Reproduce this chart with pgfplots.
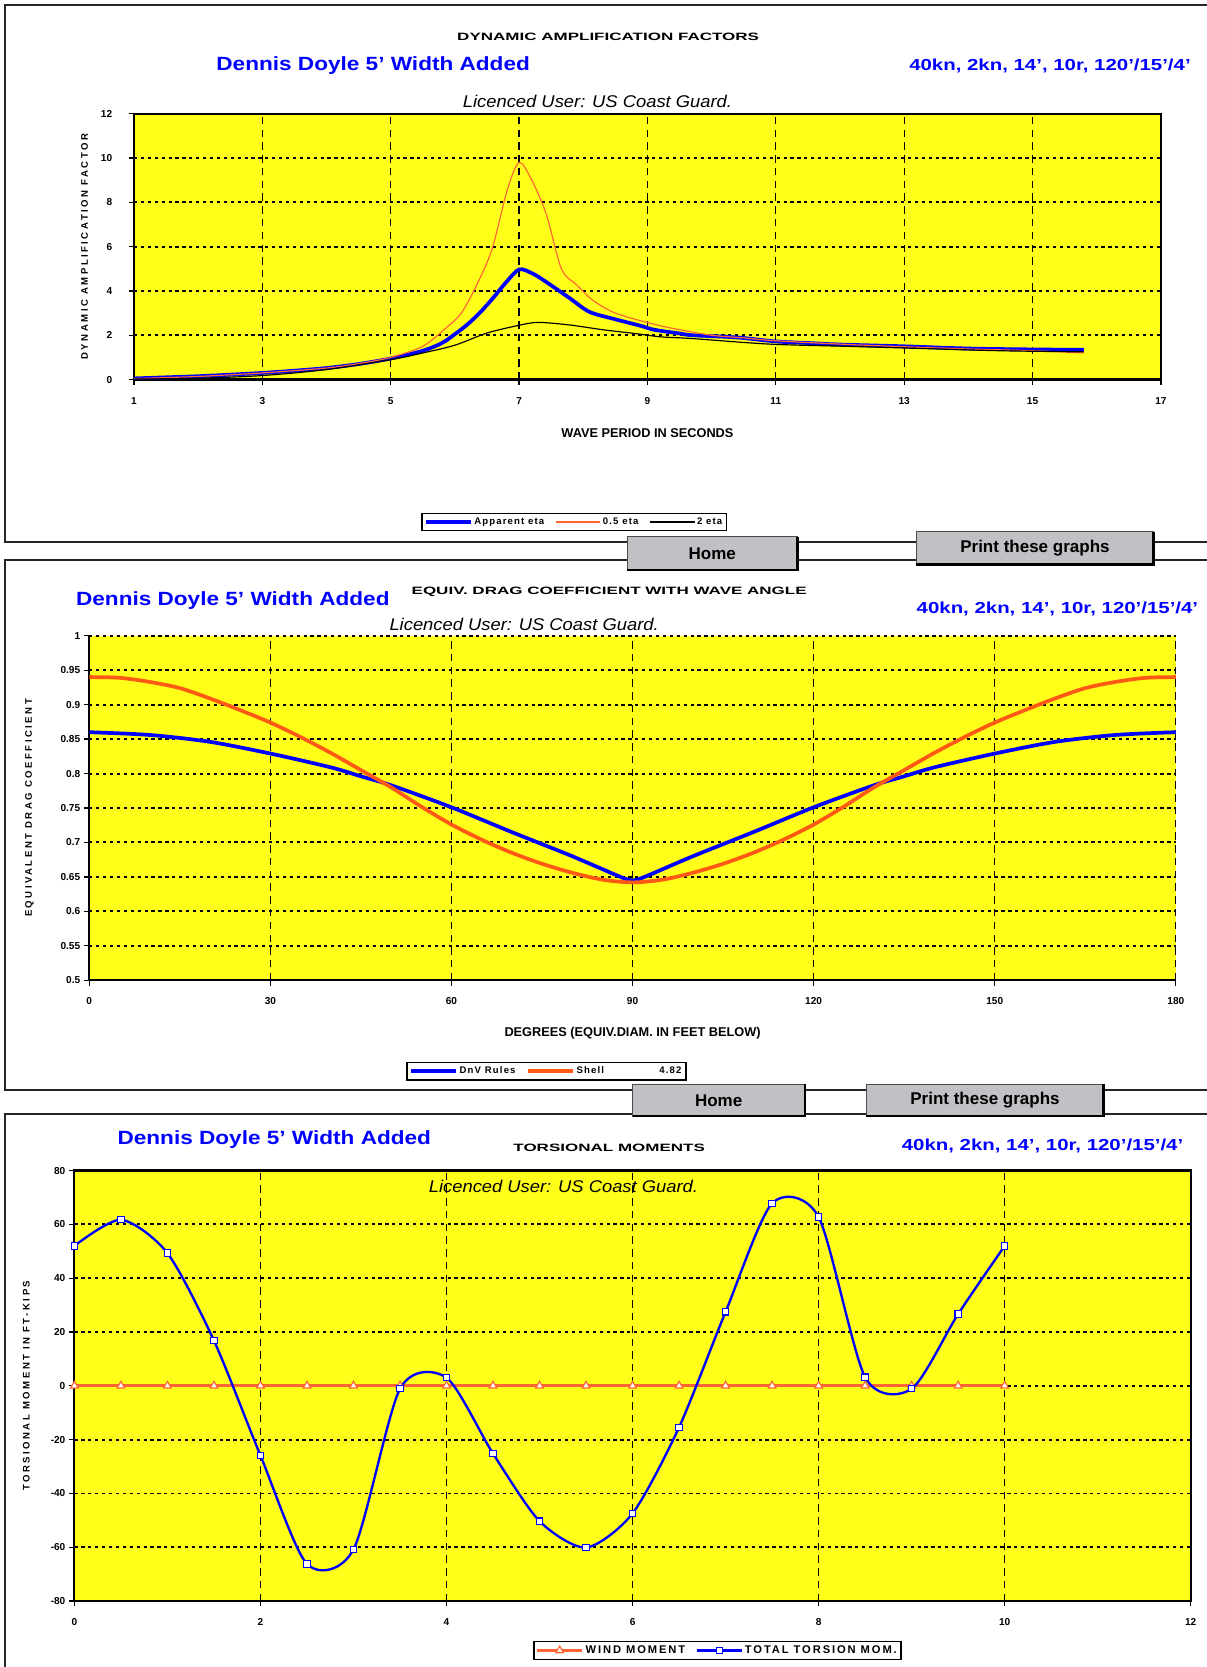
\documentclass[border=0pt]{standalone}
\usepackage{fontspec}
\setmainfont{Liberation Sans}
\usepackage{pgfplots}
\pgfplotsset{compat=1.18}

\definecolor{plotyellow}{RGB}{255,255,26}
\definecolor{xlblue}{RGB}{0,0,255}
\definecolor{xlorange}{RGB}{255,102,51}
\definecolor{xlorangeB}{RGB}{255,90,20}
\definecolor{btngray}{RGB}{194,192,196}

\newcommand{\tickfont}{\bfseries\fontsize{9.5}{10}\selectfont}
\newcommand{\labfont}{\bfseries\fontsize{12}{13}\selectfont}
\newcommand{\ylabfont}{\bfseries\fontsize{9}{10}\selectfont\addfontfeature{LetterSpace=26}}
\newcommand{\legfont}{\bfseries\fontsize{9}{10}\selectfont\addfontfeature{LetterSpace=12}}
\newcommand{\titlefont}{\bfseries\fontsize{10}{12}\selectfont}
\newcommand{\doylefont}{\bfseries\fontsize{18}{20}\selectfont}
\newcommand{\specfont}{\bfseries\fontsize{15}{17}\selectfont}
\newcommand{\licfont}{\itshape\fontsize{16}{18}\selectfont}
\newcommand{\btnfont}{\bfseries\fontsize{16}{18}\selectfont}

\pgfplotsset{
  xlchart/.style={
    scale only axis,
    anchor=south west,
    axis background/.style={fill=plotyellow},
    grid=major,
    x grid style={black, line width=1.1pt, dash pattern=on 7pt off 5pt},
    y grid style={black, line width=1.8pt, dash pattern=on 3pt off 3.5pt},
    axis line style={black, line width=2pt},
    tick align=outside,
    major tick length=5pt,
    tick style={black, line width=1.2pt},
    xtick pos=left, ytick pos=left,
    ticklabel style={font=\tickfont},
    xticklabel style={yshift=-8pt},
    /pgf/number format/assume math mode=true,
    legend columns=-1,
    legend style={draw=black, line width=1.6pt, anchor=center, inner sep=2pt,
      font=\legfont,
      /tikz/every even column/.append style={column sep=8pt}},
    legend image code/.code={\draw[mark repeat=2,mark phase=2,##1] plot coordinates {(0pt,0pt) (21pt,0pt) (42pt,0pt)};},
  },
}

\begin{document}
\begin{tikzpicture}
\path[use as bounding box] (0pt,0pt) rectangle (1135pt,-1568pt);

% ---------- chart 1: dynamic amplification factors
\begin{axis}[xlchart,
  at={(126pt,-357pt)}, width=966pt, height=250pt,
  xmin=1, xmax=17, ymin=0, ymax=12,
  xtick={1,3,...,17}, ytick={0,2,...,12},
  xlabel={WAVE PERIOD IN SECONDS},
  ylabel={DYNAMIC AMPLIFICATION FACTOR},
  x label style={at={(axis description cs:0.5,-0.2)}, anchor=center, font=\labfont},
  y label style={at={(axis description cs:-0.048,0.5)}, anchor=center, font=\ylabfont},
  yticklabel style={xshift=-12pt},
  legend style={at={(0.4286,-0.536)}},
]
\addplot[xlblue, line width=3.5pt, smooth] coordinates {
 (1,0.05) (1.5,0.1) (2,0.15) (2.5,0.22) (3,0.3) (3.5,0.4) (4,0.52) (4.5,0.7)
 (5,0.95) (5.5,1.3) (5.8,1.65) (6,2.05) (6.2,2.5) (6.4,3.05) (6.6,3.7) (6.8,4.4)
 (7,4.97) (7.2,4.8) (7.4,4.45) (7.8,3.65) (8.1,3.05) (8.5,2.72) (8.9,2.42)
 (9.1,2.25) (9.5,2.08) (9.7,2.0) (10.4,1.9) (11,1.72) (11.5,1.65) (12,1.58)
 (13,1.5) (14,1.4) (15,1.36) (15.8,1.34)};
\addlegendentry{Apparent eta}
\addplot[xlorange, line width=1.1pt, smooth] coordinates {
 (1,0.04) (2,0.14) (3,0.3) (4,0.52) (4.5,0.72) (5,1.0) (5.5,1.5) (5.85,2.3)
 (6.1,3.0) (6.34,4.27) (6.58,5.9) (6.82,8.6) (7.0,9.8) (7.18,9.1) (7.42,7.5)
 (7.66,5.0) (7.9,4.27) (8.14,3.6) (8.5,3.0) (9.1,2.5) (9.5,2.25) (10,2.0)
 (10.5,1.88) (11,1.75) (12,1.6) (13,1.48) (14,1.38) (15,1.3) (15.8,1.2)};
\addlegendentry{0.5 eta}
\addplot[black, line width=1.1pt, smooth] coordinates {
 (1,0.02) (2,0.06) (3,0.18) (4,0.45) (5,0.9) (5.5,1.2) (6,1.55) (6.5,2.1)
 (7,2.45) (7.3,2.58) (7.8,2.46) (8.3,2.25) (8.8,2.08) (9.2,1.93) (9.7,1.85)
 (10.9,1.6) (12.1,1.5) (13.3,1.4) (14.5,1.3) (15.8,1.25)};
\addlegendentry{2 eta}
\end{axis}

% ---------- chart 2: equivalent drag coefficient
\begin{axis}[xlchart,
  at={(84pt,-922pt)}, width=1022pt, height=324pt,
  axis lines*=left,
  xmin=0, xmax=180, ymin=0.5, ymax=1,
  xtick={0,30,...,180},
  ytick={0.5,0.55,0.6,0.65,0.7,0.75,0.8,0.85,0.9,0.95,1},
  xlabel={DEGREES (EQUIV.DIAM. IN FEET BELOW)},
  ylabel={EQUIVALENT DRAG COEFFICIENT},
  x label style={at={(axis description cs:0.5,-0.154)}, anchor=center, font=\labfont},
  y label style={at={(axis description cs:-0.055,0.5)}, anchor=center, font=\ylabfont},
  legend style={at={(0.4207,-0.264)}},
]
\addplot[xlblue, line width=3.5pt, smooth] coordinates {
 (0,0.860) (10,0.856) (20,0.846) (30,0.829) (40,0.809) (45,0.796) (50,0.783)
 (60,0.751) (70,0.715) (80,0.680) (88,0.650) (90,0.645) (92,0.650) (100,0.680)
 (110,0.715) (120,0.751) (130,0.783) (135,0.796) (140,0.809) (150,0.829)
 (160,0.846) (170,0.856) (180,0.860)};
\addlegendentry{DnV Rules}
\addplot[xlorangeB, line width=3.5pt, smooth] coordinates {
 (0,0.940) (5,0.939) (10,0.933) (15,0.924) (20,0.909) (25,0.892) (30,0.874)
 (35,0.853) (40,0.830) (45,0.805) (50,0.780) (55,0.752) (60,0.726) (65,0.704)
 (70,0.685) (75,0.669) (80,0.656) (85,0.646) (90,0.642) (95,0.646) (100,0.656)
 (105,0.669) (110,0.685) (115,0.704) (120,0.726) (125,0.752) (130,0.780)
 (135,0.805) (140,0.830) (145,0.853) (150,0.874) (155,0.892) (160,0.909)
 (165,0.924) (170,0.933) (175,0.939) (180,0.940)};
\addlegendentry{Shell}
\addlegendimage{empty legend}
\addlegendentry{\hspace{40pt}4.82}
\end{axis}

% ---------- chart 3: torsional moments
\begin{axis}[xlchart,
  at={(70pt,-1506pt)}, width=1050pt, height=405pt,
  xmin=0, xmax=12, ymin=-80, ymax=80,
  xtick={0,2,...,12}, ytick={-80,-60,...,80},
  ylabel={TORSIONAL MOMENT IN FT-KIPS},
  y label style={at={(axis description cs:-0.043,0.5)}, anchor=center, font=\ylabfont},
  legend style={at={(0.576,-0.1148)}, font=\bfseries\fontsize{10.5}{11}\selectfont\addfontfeature{LetterSpace=17}},
]
\addplot[xlorange, line width=2.8pt, mark=triangle*, mark size=4.2pt,
  mark options={fill=white, draw=xlorange, line width=1.1pt}] coordinates {
 (0,0) (0.5,0) (1,0) (1.5,0) (2,0) (2.5,0) (3,0) (3.5,0) (4,0) (4.5,0) (5,0)
 (5.5,0) (6,0) (6.5,0) (7,0) (7.5,0) (8,0) (8.5,0) (9,0) (9.5,0) (10,0)};
\addlegendentry{WIND MOMENT}
\addplot[xlblue, line width=2.2pt, smooth, tension=0.45, mark=square*, mark size=3pt,
  mark options={fill=white, draw=xlblue, line width=1pt}] coordinates {
 (0,52) (0.5,61.7) (1,49.3) (1.5,16.8) (2,-25.9) (2.5,-66.2) (3,-60.8)
 (3.5,-1.1) (4,3.0) (4.5,-25.2) (5,-50.3) (5.5,-60.1) (6,-47.4) (6.5,-15.4)
 (7,27.5) (7.5,67.8) (8,62.7) (8.5,3.2) (9,-1.1) (9.5,26.7) (10,52)};
\addlegendentry{TOTAL TORSION MOM.}
\end{axis}

% ---------- sheet decoration: frames, buttons, titles
\begin{scope}[x=1pt, y=-1pt]
  \draw[black!85, line width=2pt] (1140,5) -- (5,5) -- (5,510) -- (1140,510);
  \draw[black!85, line width=2pt] (1140,527) -- (5,527) -- (5,1025) -- (1140,1025);
  \draw[black!85, line width=2pt] (1140,1048) -- (5,1048) -- (5,1575);

  \tikzset{btn/.style={fill=btngray, draw=black!70, line width=0.8pt}}
  \newcommand{\button}[5]{%
    \path[btn] (#1,#2) rectangle (#3,#4);
    \draw[black, line width=2.2pt] (#3,#2) -- (#3,#4) -- (#1,#4);
    \node[font=\btnfont] at ({(#1+#3)/2},{(#2+#4)/2}) {#5};}
  \button{590}{505}{750}{536}{Home}
  \button{862}{500}{1085}{531}{Print these graphs}
  \button{595}{1020}{757}{1050}{Home}
  \button{815}{1020}{1038}{1050}{Print these graphs}

  \tikzset{ttl/.style={font=\titlefont, xscale=1.6},
           doyle/.style={font=\doylefont, text=xlblue, xscale=1.18},
           spec/.style={font=\specfont, text=xlblue, anchor=west, inner sep=0pt, xscale=1.28},
           lic/.style={font=\licfont, xscale=1.08}}
  % chart 1
  \node[ttl] at (572,35) {DYNAMIC AMPLIFICATION FACTORS};
  \node[doyle] at (351,62) {Dennis Doyle 5' Width Added};
  \node[spec] at (855,62) {40kn, 2kn, 14', 10r, 120'/15'/4'};
  \node[lic] at (562,95) {Licenced User: US Coast Guard.};
  % chart 2
  \node[ttl] at (573,557) {EQUIV. DRAG COEFFICIENT WITH WAVE ANGLE};
  \node[doyle] at (219,565) {Dennis Doyle 5' Width Added};
  \node[spec] at (862,573) {40kn, 2kn, 14', 10r, 120'/15'/4'};
  \node[lic] at (493,587) {Licenced User: US Coast Guard.};
  % chart 3
  \node[doyle] at (258,1072) {Dennis Doyle 5' Width Added};
  \node[ttl] at (573,1080) {TORSIONAL MOMENTS};
  \node[spec] at (848,1078) {40kn, 2kn, 14', 10r, 120'/15'/4'};
  \node[lic] at (530,1116) {Licenced User: US Coast Guard.};
\end{scope}
\end{tikzpicture}
\end{document}
